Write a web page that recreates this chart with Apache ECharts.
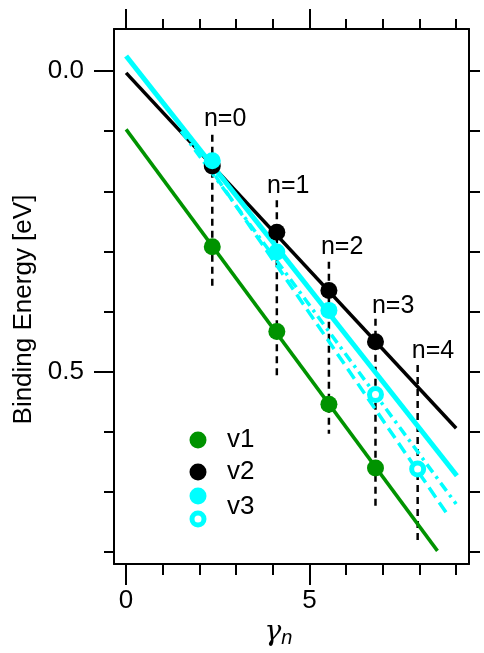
<!DOCTYPE html>
<html>
<head>
<meta charset="UTF-8">
<title>Binding Energy</title>
<script src="https://cdn.jsdelivr.net/npm/echarts@6.0.0/dist/echarts.min.js"></script>
<style>
html, body { margin: 0; padding: 0; background: #fff; }
#chart { width: 484px; height: 653px; }
</style>
</head>
<body>
<div id="chart"></div>
<script>
// level positions (gamma_n) for n = 0..4
var gammaN = [2.35, 4.11, 5.53, 6.80, 7.95];
var levelNames = ['n=0', 'n=1', 'n=2', 'n=3', 'n=4'];
var labelGamma = [2.70, 4.42, 5.89, 7.28, 8.37];
var labelEnergy = [0.080, 0.192, 0.292, 0.391, 0.465];
// dashed guides under each level
var guideTop = [0.106, 0.215, 0.317, 0.412, 0.489];
var guideBottom = [0.365, 0.507, 0.603, 0.729, 0.780];

// measured binding energies
var v1 = [0.292, 0.433, 0.554, 0.660];
var v2 = [0.158, 0.268, 0.365, 0.450];
var v3 = [0.149, 0.301, 0.398];
var v3open = [null, null, null, 0.538, 0.662];

// fitted lines, [gamma, energy] end points
var fitV1 = [[0, 0.097], [8.49, 0.798]];
var fitV2 = [[0, 0.003], [9.00, 0.594]];
var fitV3 = [[0, -0.025], [9.02, 0.673]];
var fitV3a = [[1.5, 0.100], [9.00, 0.720]];
var fitV3b = [[1.6, 0.100], [8.78, 0.739]];

// axis ticks
var xMajor = [0, 5];
var xMinor = [1, 2, 3, 4, 6, 7, 8, 9];
var yMajor = [0, 0.5];
var yMinor = [0.1, 0.2, 0.3, 0.4, 0.6, 0.7, 0.8];
var yAll = [0, 0.1, 0.2, 0.3, 0.4, 0.5, 0.6, 0.7, 0.8];

var legendNames = ['v1', 'v2', 'v3'];

var green = '#009300';
var cyan = '#00ffff';
var fontFam = '"Liberation Sans", Arial, sans-serif';

var chart = echarts.init(document.getElementById('chart'));

function pts(arr) {
	var out = [];
	for (var i = 0; i < arr.length; i++) {
		if (arr[i] != null) out.push([gammaN[i], arr[i]]);
	}
	return out;
}

var axLine = { show: true, onZero: false, lineStyle: { color: '#000', width: 2 } };
var noLine = { show: false, onZero: false };

var series = [];

// vertical dashed guides
for (var i = 0; i < gammaN.length; i++) {
	series.push({
		type: 'line',
		data: [[gammaN[i], guideTop[i]], [gammaN[i], guideBottom[i]]],
		symbol: 'none',
		lineStyle: { color: '#000', width: 2.5, type: [7, 5] },
		z: 1
	});
}

series.push({ type: 'line', data: fitV1, symbol: 'none', lineStyle: { color: green, width: 3.5 }, z: 2 });
series.push({ type: 'line', data: fitV2, symbol: 'none', lineStyle: { color: '#000', width: 3.5 }, z: 2 });
series.push({ type: 'line', data: fitV3a, symbol: 'none', lineStyle: { color: cyan, width: 3.5, type: [10, 5, 3, 5] }, z: 3 });
series.push({ type: 'line', data: fitV3b, symbol: 'none', lineStyle: { color: cyan, width: 3.5, type: [12, 6] }, z: 3 });
series.push({ type: 'line', data: fitV3, symbol: 'none', lineStyle: { color: cyan, width: 5 }, z: 3 });

series.push({ name: 'v1', type: 'scatter', data: pts(v1), symbolSize: 17, itemStyle: { color: green, opacity: 1 }, z: 5 });
series.push({ name: 'v2', type: 'scatter', data: pts(v2), symbolSize: 17, itemStyle: { color: '#000', opacity: 1 }, z: 5 });
series.push({ name: 'v3', type: 'scatter', data: pts(v3), symbolSize: 17, itemStyle: { color: cyan, opacity: 1 }, z: 6 });
series.push({ name: 'v3', type: 'scatter', data: pts(v3open), symbolSize: 12,
	itemStyle: { color: '#fff', borderColor: cyan, borderWidth: 5, opacity: 1 }, z: 6 });

// level labels
series.push({
	type: 'scatter',
	symbolSize: 1,
	itemStyle: { color: 'rgba(255,255,255,0)' },
	data: labelGamma.map(function (g, k) { return { name: levelNames[k], value: [g, labelEnergy[k]] }; }),
	label: {
		show: true, position: 'inside', formatter: '{b}', color: '#000', opacity: 1,
		textBorderWidth: 0, fontSize: 25, fontFamily: fontFam
	},
	z: 7
});

// legend drawn by hand (v3 has two markers)
var lx = 198;
var graphic = [
	{ type: 'circle', shape: { cx: lx, cy: 440, r: 8.5 }, style: { fill: green } },
	{ type: 'circle', shape: { cx: lx, cy: 472, r: 8.5 }, style: { fill: '#000' } },
	{ type: 'circle', shape: { cx: lx, cy: 496, r: 8.5 }, style: { fill: cyan } },
	{ type: 'circle', shape: { cx: lx, cy: 519, r: 6 }, style: { fill: '#fff', stroke: cyan, lineWidth: 5 } }
];
var legendY = [440, 472, 507];
for (var j = 0; j < legendNames.length; j++) {
	graphic.push({
		type: 'text', x: 227, y: legendY[j],
		style: { text: legendNames[j], fill: '#000', font: '26px ' + fontFam, verticalAlign: 'middle' }
	});
}

var option = {
	animation: false,
	backgroundColor: '#fff',
	textStyle: { fontFamily: fontFam },
	grid: { left: 114, right: 15, top: 29, bottom: 86 },
	xAxis: [
		{
			type: 'value', position: 'bottom', min: -0.33, max: 9.35,
			axisLine: axLine,
			axisTick: { show: true, customValues: xMajor, length: 21, lineStyle: { color: '#000', width: 2 } },
			axisLabel: { customValues: xMajor, margin: 24, fontSize: 26, color: '#000' },
			splitLine: { show: false },
			name: '{g|γ}{n|n}',
			nameLocation: 'middle',
			nameGap: 52,
			nameTextStyle: {
				padding: [0, 26, 0, 0],
				rich: {
					g: { fontSize: 28, color: '#000', fontStyle: 'italic', fontFamily: '"DejaVu Serif", serif' },
					n: { fontSize: 20, color: '#000', fontStyle: 'italic', fontFamily: fontFam, padding: [10, 0, 0, 0] }
				}
			}
		},
		{
			type: 'value', position: 'bottom', min: -0.33, max: 9.35,
			axisLine: noLine,
			axisTick: { show: true, customValues: xMinor, length: 11, lineStyle: { color: '#000', width: 2 } },
			axisLabel: { show: false }, splitLine: { show: false }
		},
		{
			type: 'value', position: 'top', min: -0.33, max: 9.35,
			axisLine: axLine,
			axisTick: { show: true, customValues: xMajor, length: 20, lineStyle: { color: '#000', width: 2 } },
			axisLabel: { show: false }, splitLine: { show: false }
		},
		{
			type: 'value', position: 'top', min: -0.33, max: 9.35,
			axisLine: noLine,
			axisTick: { show: true, customValues: xMinor, length: 10, lineStyle: { color: '#000', width: 2 } },
			axisLabel: { show: false }, splitLine: { show: false }
		}
	],
	yAxis: [
		{
			type: 'value', position: 'left', inverse: true, min: -0.07, max: 0.82,
			axisLine: axLine,
			axisTick: { show: true, customValues: yMajor, length: 20, lineStyle: { color: '#000', width: 2 } },
			axisLabel: {
				customValues: yMajor, margin: 30, fontSize: 26, color: '#000',
				formatter: function (v) { return v.toFixed(1); }
			},
			splitLine: { show: false },
			name: 'Binding Energy [eV]',
			nameLocation: 'middle',
			nameRotate: 90,
			nameGap: 77,
			nameTextStyle: { fontSize: 26, color: '#000', padding: [0, 26, 0, 0] }
		},
		{
			type: 'value', position: 'left', inverse: true, min: -0.07, max: 0.82,
			axisLine: noLine,
			axisTick: { show: true, customValues: yMinor, length: 10, lineStyle: { color: '#000', width: 2 } },
			axisLabel: { show: false }, splitLine: { show: false }
		},
		{
			type: 'value', position: 'right', inverse: true, min: -0.07, max: 0.82,
			axisLine: axLine,
			axisTick: { show: true, customValues: yAll, length: 11, lineStyle: { color: '#000', width: 2 } },
			axisLabel: { show: false }, splitLine: { show: false }
		}
	],
	graphic: graphic,
	series: series
};

chart.setOption(option);
</script>
</body>
</html>
